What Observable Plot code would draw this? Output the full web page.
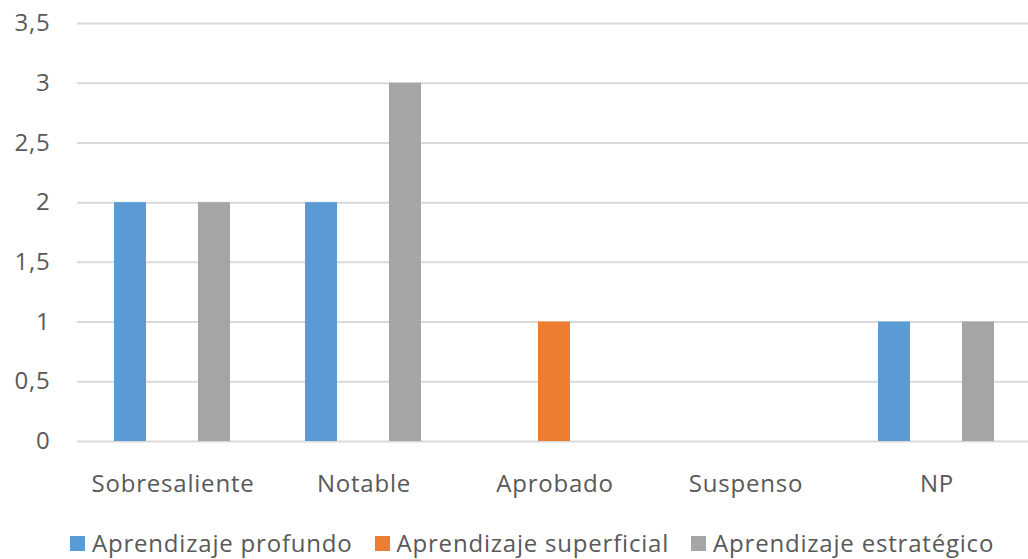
<!DOCTYPE html>
<html>
<head>
<meta charset="utf-8">
<script src="https://cdn.jsdelivr.net/npm/d3@7"></script>
<script src="https://cdn.jsdelivr.net/npm/@observablehq/plot@0.6"></script>
<style>
  html, body { margin: 0; padding: 0; background: #fff; overflow: hidden; width: 1028px; height: 559px; }
  #chart svg { display: block; max-width: none !important; }
  .legend { display: flex; align-items: center; margin-left: 70px; margin-top: 7px; font-family: "Open Sans", sans-serif; font-size: 24px; letter-spacing: 0.8px; color: #595959; line-height: 30px; white-space: nowrap; }
  .legend .item { display: flex; align-items: center; margin-right: 22px; }
  .legend .sw { width: 15px; height: 15px; margin-right: 7px; }
</style>
</head>
<body>
<div id="chart"></div>
<script>
const categories = ["Sobresaliente", "Notable", "Aprobado", "Suspenso", "NP"];
const seriesNames = ["Aprendizaje profundo", "Aprendizaje superficial", "Aprendizaje estratégico"];
const profundo = [2, 2, 0, 0, 1];
const superficial = [0, 0, 1, 0, 0];
const estrategico = [2, 3, 0, 0, 1];
const yTicks = [0, 0.5, 1, 1.5, 2, 2.5, 3, 3.5];
const colors = ["#5b9bd5", "#ed7d31", "#a5a5a5"];

const seriesValues = [profundo, superficial, estrategico];
const data = [];
categories.forEach((c, i) => {
  seriesNames.forEach((s, j) => {
    data.push({cat: c, series: s, value: seriesValues[j][i]});
  });
});

const chart = Plot.plot({
  width: 1034,
  height: 521,
  marginLeft: 75,
  marginRight: 0,
  marginTop: 23,
  marginBottom: 80,
  style: {fontFamily: "'Open Sans', sans-serif", fontSize: "24px", letterSpacing: "0.8px", color: "#595959", background: "#fff", overflow: "visible", maxWidth: "none"},
  fx: {domain: categories, padding: 0, label: null},
  x: {domain: seriesNames, paddingInner: 0.233, paddingOuter: 0.846, axis: null},
  y: {domain: [0, 3.5], label: null},
  color: {domain: seriesNames, range: colors},
  marks: [
    Plot.gridY(yTicks, {stroke: "#d9d9d9", strokeOpacity: 1, strokeWidth: 2}),
    Plot.axisY(yTicks, {tickSize: 0, tickPadding: 27, label: null, tickFormat: d => String(d).replace(".", ","), fill: "#595959"}),
    Plot.axisFx({anchor: "bottom", tickSize: 0, tickPadding: 33, label: null, fill: "#595959"}),
    Plot.barY(data, {fx: "cat", x: "series", y: "value", fill: "series"})
  ]
});
document.getElementById("chart").appendChild(chart);

const legend = document.createElement("div");
legend.className = "legend";
seriesNames.forEach((s, j) => {
  const item = document.createElement("div");
  item.className = "item";
  const sw = document.createElement("span");
  sw.className = "sw";
  sw.style.background = colors[j];
  const t = document.createElement("span");
  t.textContent = s;
  item.appendChild(sw);
  item.appendChild(t);
  legend.appendChild(item);
});
document.body.appendChild(legend);
</script>
</body>
</html>
